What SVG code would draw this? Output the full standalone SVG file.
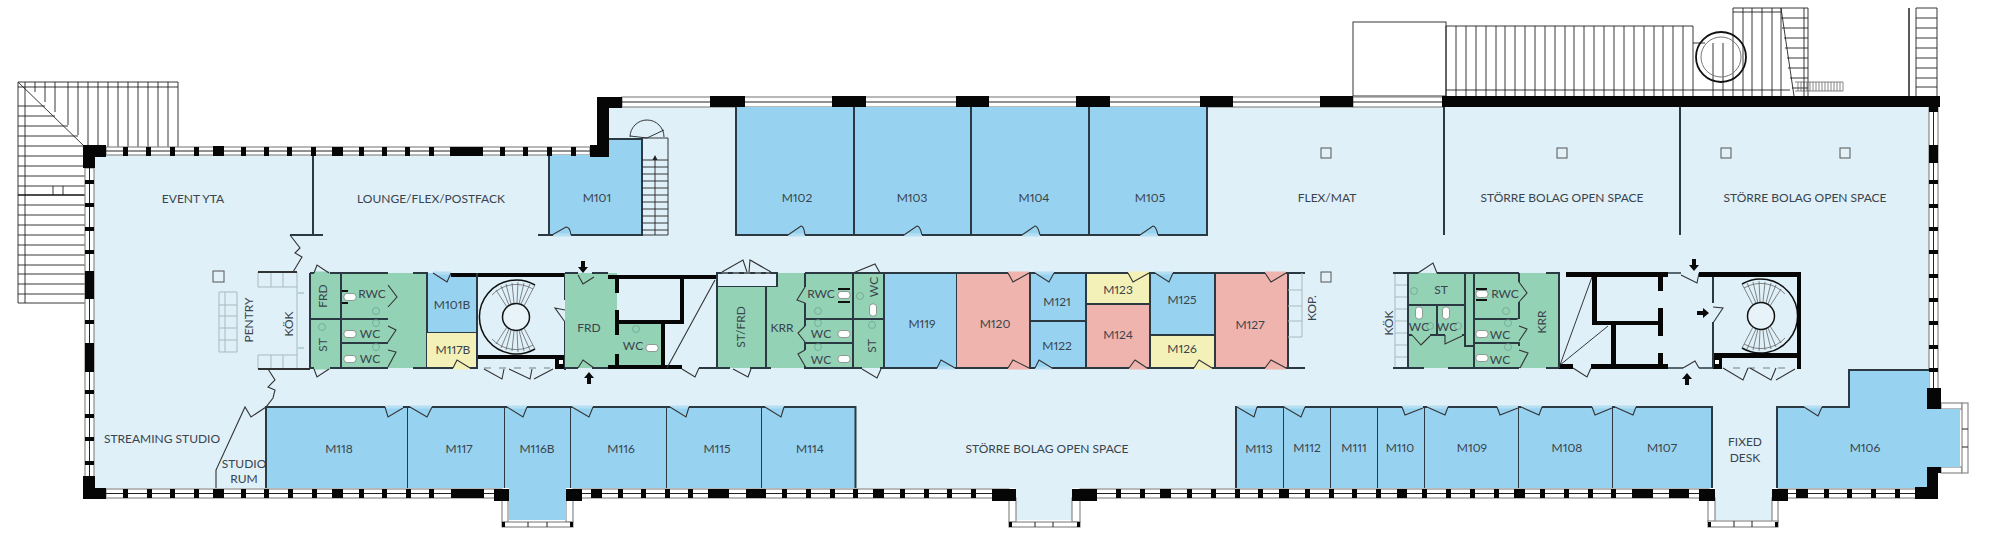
<svg xmlns="http://www.w3.org/2000/svg" width="2001" height="552" viewBox="0 0 2001 552">
<style>
text{font-family:"Lato","Liberation Sans",sans-serif;font-size:12px;font-variant-numeric:proportional-nums;font-feature-settings:"pnum";fill:#3a444c;text-anchor:middle;dominant-baseline:central}
.fl{fill:#dff0f9}.b{fill:#97d3f1}.g{fill:#93d2b5}.p{fill:#efb4ae}.y{fill:#f4f1b8}
.o{stroke:#2b3a42;stroke-width:2;fill:none}
.wall{fill:#060606}
.fr{fill:#fff;stroke:#8a8a8a;stroke-width:1.2}
.ml{stroke:#222;stroke-width:1;fill:none}
.th{stroke:#222;stroke-width:.9;fill:none}
.lg{stroke:#555;stroke-width:.7;fill:none}
.gy{stroke:#a9b9bd;stroke-width:1;fill:none}
.d{stroke:#333;stroke-width:1.1;fill:none}
.gb{stroke:#b5def3;stroke-width:3}.gg{stroke:#93d2b5;stroke-width:3}.gp{stroke:#efb4ae;stroke-width:3}.gl{stroke:#dff0f9;stroke-width:3}.gyl{stroke:#f4f1b8;stroke-width:3}
.col{fill:#e3f1f8;stroke:#555;stroke-width:1}
.toi{fill:#fff;stroke:#777;stroke-width:.7}
.sk{fill:none;stroke:#6c9d8a;stroke-width:.7}
</style>
<defs>
<path id="arr" d="M0-6L5 0H2V6H-2V0H-5Z" fill="#0a0a0a"/>
<rect id="to" class="toi" x="-6" y="-3.5" width="12" height="7" rx="3"/>
<circle id="sink" class="sk" r="3.5"/>
<g id="spiral">
<circle r="13.5" fill="#e8f3f9" stroke="#111" stroke-width="1.5"/>
<path d="M19-32A37 37 0 1 0 19 32" fill="none" stroke="#111" stroke-width="1.5"/>
<path d="M-20-27L-9-10M-15-31L-7-12M-10-33L-5-13M-4-34L-2-14M2-35L1-14M8-34L3-13M14-33L5-13M19-32L8-11M-20 27L-9 10M-15 31L-7 12M-10 33L-5 13M-4 34L-2 14M2 35L1 14M8 34L3 13M14 33L5 13M19 32L8 11M-24-22A33 33 0 0 1 17-28M-24 22A33 33 0 0 0 17 28" class="lg"/>
</g>
</defs>

<g id="exterior-stairs">
<path class="th" d="M18 82H178M18 87H178M18 82V303M25 82V303M18 82L83 145M35 82V92M45 82V102M55 82V112M68 82V125M78 82V135M88 82V147M98 82V147M108 82V147M118 82V147M128 82V147M138 82V147M148 82V147M158 82V147M168 82V147M178 82V147"/>
<path class="th" d="M18 106H45M18 116H55M18 126H68M18 136H78M18 146H85M18 156H85M18 166H85M18 176H85M18 186H85M18 205H85M18 215H85M18 225H85M18 235H85M18 245H85M18 255H85M18 265H85M18 274H85M18 284H85M18 294H85M18 303H85M53 186V195M63 186V195"/>
<path d="M18 195H85" stroke="#111" stroke-width="1.4"/>
<rect x="1353" y="22" width="93" height="74" fill="#fff" class="th"/>
<path class="th" d="M1446 26H1693M1446 26V96M1456 26V96M1466 26V96M1476 26V96M1486 26V96M1496 26V96M1505 26V96M1515 26V96M1525 26V96M1535 26V96M1545 26V96M1555 26V96M1565 26V96M1574 26V96M1584 26V96M1594 26V96M1604 26V96M1614 26V96M1624 26V96M1634 26V96M1644 26V96M1654 26V96M1663 26V96M1673 26V96M1683 26V96M1693 26V96M1446 90H1790M1693 43H1705M1713 43V96M1723 43V96"/>
<path class="th" d="M1733 8H1808V96M1733 8V96M1743 8V96M1752 8V96M1762 8V96M1772 8V96M1781 8V96M1804 8V96M1733 12H1781M1781 8L1794 96M1781 18H1808M1782 28H1808M1784 38H1808M1785 48H1808M1787 58H1808M1788 68H1808M1790 78H1808M1792 88H1808"/>
<path class="lg" d="M1795 82H1843M1795 91H1843M1798 82V91M1801 82V91M1804 82V91M1807 82V91M1810 82V91M1813 82V91M1816 82V91M1819 82V91M1822 82V91M1825 82V91M1828 82V91M1831 82V91M1834 82V91M1837 82V91M1840 82V91M1843 82V91"/>
<circle cx="1721" cy="57" r="25" fill="none" stroke="#111" stroke-width="1.8"/>
<circle cx="1721" cy="57" r="20" fill="none" stroke="#777" stroke-width="1"/>
<path d="M1909 8V96" stroke="#222" stroke-width="1.5"/>
<path class="th" d="M1916 8H1937V96M1916 8V96M1916 18H1937M1916 28H1937M1916 38H1937M1916 48H1937M1916 58H1937M1916 68H1937M1916 78H1937M1916 87H1937"/>
</g>

<g id="floor">
<path class="fl" d="M94 155H609V107H1929V488H1772V520H1715V488H1072V520H1015V488H566V520H509V488H94Z"/>
</g>

<g id="windows">
<rect class="fr" x="106" y="147" width="484" height="8"/>
<rect class="fr" x="622" y="97" width="731" height="10"/>
<rect class="fr" x="1353" y="97" width="90" height="10"/>
<rect class="fr" x="106" y="489" width="396" height="9"/>
<rect class="fr" x="573" y="489" width="436" height="9"/>
<rect class="fr" x="1080" y="489" width="629" height="9"/>
<rect class="fr" x="1778" y="489" width="140" height="9"/>
<rect class="fr" x="85" y="168" width="9" height="310"/>
<rect class="fr" x="1929" y="107" width="9" height="282"/>
<rect class="fr" x="502" y="498" width="6" height="24"/><rect class="fr" x="566" y="498" width="7" height="24"/><rect class="fr" x="502" y="522" width="71" height="5"/>
<rect class="fr" x="1009" y="498" width="7" height="24"/><rect class="fr" x="1072" y="498" width="8" height="24"/><rect class="fr" x="1009" y="522" width="71" height="5"/>
<rect class="fr" x="1708" y="498" width="7" height="24"/><rect class="fr" x="1772" y="498" width="6" height="24"/><rect class="fr" x="1708" y="521" width="70" height="6"/>
<rect class="fr" x="1941" y="403" width="21" height="6"/><rect class="fr" x="1941" y="467" width="21" height="6"/><rect class="fr" x="1962" y="403" width="6" height="70"/>
<path class="ml" d="M106 151H590M622 102H1443M106 493.5H502M573 493.5H1009M1080 493.5H1709M1778 493.5H1918M89.5 168V478M1933.5 107V389M528 522V527M547 522V527M1035 522V527M1053 522V527M1734 521V527M1752 521V527M1962 429H1968M1962 447H1968"/>
</g>

<g id="room-m101"><path class="b" d="M549 155H609V139H642V235H549Z"/><path class="o" d="M549 155V235H642V139H609M538 235H549"/><path class="gb" d="M553 235H571"/><path class="d" d="M552 235L566 227Q570 227 571 235"/><text x="597" y="197">M101</text></g>
<g id="stair-m101"><path class="th" d="M642 138H668V235H642M655 235V158M630 137A17 17 0 0 1 664 137M647 138L630 136M647 138L664 130M642 160H668M642 167H668M642 174H668M642 181H668M642 188H668M642 195H668M642 202H668M642 209H668M642 216H668M642 223H668M642 230H668"/><path d="M655 155L657.500 160H652.500Z" fill="#222"/></g>
<g id="room-m102"><rect class="b" x="736" y="107" width="118" height="128"/><path class="o" d="M736 107V235H854"/><path class="gb" d="M788 235H805"/><path class="d" d="M788 235L801 226Q804 226 805 235"/><text x="797" y="197">M102</text></g>
<g id="room-m103"><rect class="b" x="854" y="107" width="117" height="128"/><path class="o" d="M854 107V235H971"/><path class="gb" d="M904 235H922"/><path class="d" d="M904 235L917 226Q920 226 922 235"/><text x="912" y="197">M103</text></g>
<g id="room-m104"><rect class="b" x="971" y="107" width="118" height="128"/><path class="o" d="M971 107V235H1089"/><path class="gb" d="M1022 235H1040"/><path class="d" d="M1022 235L1035 226Q1038 226 1040 235"/><text x="1034" y="197">M104</text></g>
<g id="room-m105"><rect class="b" x="1089" y="107" width="118" height="128"/><path class="o" d="M1089 107V235H1207V107"/><path class="gb" d="M1140 235H1158"/><path class="d" d="M1140 235L1153 226Q1156 226 1158 235"/><text x="1150" y="197">M105</text></g>

<g id="open-areas">
<path class="o" d="M313 155V235M290 235H323M1444 107V235M1680 107V235"/>
<path class="d" d="M290 235L300 248L295 253L302 257L293 272M268 369L275 380L268 387L275 390L273 398L266 407L251 417L245 407L216 470V488"/>
<text x="193" y="198">EVENT YTA</text><text x="431" y="198">LOUNGE/FLEX/POSTFACK</text><text x="1327" y="197">FLEX/MAT</text><text x="1562" y="197">STÖRRE BOLAG OPEN SPACE</text><text x="1805" y="197">STÖRRE BOLAG OPEN SPACE</text><text x="162" y="438">STREAMING STUDIO</text><text x="244" y="463">STUDIO</text><text x="244" y="478">RUM</text><text x="1047" y="448">STÖRRE BOLAG OPEN SPACE</text><text x="1745" y="441">FIXED</text><text x="1745" y="457">DESK</text>
<g class="col"><rect x="213" y="271" width="11" height="11"/><rect x="1321" y="148" width="10" height="10"/><rect x="1557" y="148" width="10" height="10"/><rect x="1721" y="148" width="10" height="10"/><rect x="1840" y="148" width="10" height="10"/><rect x="1321" y="272" width="10" height="10"/></g>
</g>

<g id="west-kitchen">
<path class="gy" d="M219 292H237V352H219ZM225 292V352M219 305H237M219 316H237M219 328H237M219 340H237M258 272V287H297M271 272V287M283 272V287M258 355H297M258 355V369M271 355V369M283 355V369M297 272V369"/>
<path d="M258 272H297M258 369H310" stroke="#333" stroke-width="2" fill="none"/>
<path class="sk" d="M298 293h6M298 348h6"/>
<text transform="translate(248 320) rotate(-90)">PENTRY</text><text transform="translate(288 324) rotate(-90)">KÖK</text>
</g>

<g id="core-west-green">
<rect class="g" x="310" y="273" width="117" height="95"/>
<path class="o" d="M310 273V368M341 273V368M310 319H388M341 343H388M310 273H388M310 368H388M413 273H427V368H413"/>
<path class="gg" d="M314 273H330M314 368H330M388 285V307M388 326V342M388 350V367"/>
<path class="d" d="M314 273L317 265L329 273M314 369L317 377L329 369M388 285L397 297L388 307M388 326L396 330L388 342M388 350L396 352L388 367"/>
<use href="#to" x="350" y="297"/><use href="#to" x="350" y="334"/><use href="#to" x="350" y="359"/><use href="#sink" x="376" y="311"/><use href="#sink" x="376" y="323"/><use href="#sink" x="376" y="347"/><use href="#sink" x="322" y="327"/>
<path d="M342 291H348M342 303H348" stroke="#111" stroke-width="2"/>
<text transform="translate(322 296) rotate(-90)">FRD</text><text x="372" y="293">RWC</text><text x="370" y="333">WC</text><text x="370" y="358">WC</text><text transform="translate(322 345) rotate(-90)">ST</text>
</g>
<g id="room-m101b"><rect class="b" x="427" y="273" width="50" height="60"/><path class="o" d="M427 273V333H477"/><path class="gb" d="M433 273H451"/><path class="d" d="M433 273L447 282L451 273"/><text x="452" y="304">M101B</text></g>
<g id="room-m117b"><rect class="y" x="427" y="333" width="50" height="35"/><path class="o" d="M427 368H477V333"/><path class="gyl" d="M453 368H470"/><path class="d" d="M453 368L457 360L470 368"/><text x="453" y="349">M117B</text></g>
<g id="stair-west">
<use href="#spiral" transform="translate(516 317)"/>
<path class="wall" d="M451 273H565V277H451ZM477 355H565V359H477ZM555 359H565V369H555Z"/><rect x="559" y="360" width="4" height="4" fill="#fff"/>
<path class="o" d="M477 273V368M565 273V300M565 322V370"/>
<path d="M484 368H550" stroke="#a9b9bd" stroke-width="2" stroke-dasharray="7 8" fill="none"/>
<path class="d" d="M565 310L555 308L565 322M484 369L502 379L504 369M509 369L530 379L532 369M534 379L553 369"/>
<use href="#arr" transform="translate(583 267) rotate(180)"/><use href="#arr" transform="translate(572 313) rotate(-90)"/><use href="#arr" transform="translate(589 378)"/>
</g>
<g id="core-frd">
<path class="g" d="M565 273H617V324H661V368H565Z"/>
<path class="wall" d="M608 275H717V279H608ZM615 279H619V293H615ZM615 310H619V335H615ZM615 354H619V368H615ZM608 365H682V369H608ZM680 279H684V324H680ZM617 320H684V324H617ZM661 324H665V368H661Z"/>
<path class="o" d="M565 273H578M592 273H608M565 368H578M592 368H608M717 273V368M699 368H717M717 273H725"/>
<path class="d" d="M578 275L583 284L594 277M578 368L583 360L594 368M682 369L695 377L699 368M667 368L715 280"/>
<use href="#to" x="652" y="348"/><use href="#sink" x="636" y="329"/>
<text x="589" y="327">FRD</text><text x="633" y="345">WC</text>
</g>

<g id="core-mid">
<rect x="717" y="273" width="60" height="14" class="fl" stroke="#2b3a42" stroke-width="2"/>
<path class="g" d="M717 287H777V273H884V368H717Z"/>
<path class="o" d="M717 287V368H730M750 368H771M766 287V368M777 273V287M805 273V368H862M853 273V368M805 273H884M805 319H884M805 343H853M880 368H884"/>
<path class="gg" d="M805 287V303M805 326V342M805 350V366"/>
<path d="M722 273H770" stroke="#999" stroke-width="1.2" stroke-dasharray="6 5"/>
<path class="d" d="M722 272L743 260L747 272M749 272L750 260L771 272M853 273L875 264L880 273M733 369L748 377L751 369M862 369L877 378L881 369M805 287L797 300L805 303M805 326L798 333L805 342M805 350L798 354L805 366"/>
<use href="#to" x="844" y="295"/><use href="#to" x="844" y="334"/><use href="#to" x="844" y="359"/><use href="#to" transform="translate(873 310) rotate(90)"/><use href="#sink" x="818" y="311"/><use href="#sink" x="818" y="323"/><use href="#sink" x="818" y="347"/><use href="#sink" x="860" y="296"/><use href="#sink" x="872" y="325"/>
<path d="M838 289H850M838 302H850" stroke="#111" stroke-width="2"/>
<text transform="translate(740 327) rotate(-90)">ST/FRD</text><text x="782" y="327">KRR</text><text x="821" y="293">RWC</text><text x="821" y="333">WC</text><text x="821" y="359">WC</text><text transform="translate(873 287) rotate(-90)">WC</text><text transform="translate(871 346) rotate(-90)">ST</text>
</g>
<g id="room-m119"><rect class="b" x="884" y="273" width="73" height="95"/><path class="o" d="M884 273H957V368H884V273"/><path class="gb" d="M937 368H955"/><path class="d" d="M937 368L941 360L955 368"/><text x="922" y="323">M119</text></g>
<g id="room-m120"><rect class="p" x="957" y="273" width="73" height="95"/><path class="o" d="M957 273H1030V368H957"/><path class="gp" d="M1008 273H1029M1008 368H1029"/><path class="d" d="M1008 273L1013 282L1029 273M1008 368L1013 360L1029 368"/><text x="995" y="323">M120</text></g>
<g id="room-m121"><rect class="b" x="1030" y="273" width="56" height="48"/><path class="o" d="M1030 273H1086V321H1030Z"/><path class="gb" d="M1035 273H1054"/><path class="d" d="M1035 273L1049 282L1054 273"/><text x="1057" y="301">M121</text></g>
<g id="room-m122"><rect class="b" x="1030" y="321" width="56" height="47"/><path class="o" d="M1030 321H1086V368H1030Z"/><path class="gb" d="M1035 368H1052"/><path class="d" d="M1035 368L1039 360L1052 368"/><text x="1057" y="345">M122</text></g>
<g id="room-m123"><rect class="y" x="1086" y="273" width="64" height="31"/><path class="o" d="M1086 273H1150V304H1086Z"/><path class="gyl" d="M1128 273H1149"/><path class="d" d="M1128 273L1133 282L1149 273"/><text x="1118" y="289">M123</text></g>
<g id="room-m124"><rect class="p" x="1086" y="304" width="64" height="64"/><path class="o" d="M1086 304H1150V368H1086Z"/><path class="gp" d="M1129 368H1147"/><path class="d" d="M1129 368L1135 360L1147 368"/><text x="1118" y="334">M124</text></g>
<g id="room-m125"><rect class="b" x="1150" y="273" width="65" height="62"/><path class="o" d="M1150 273H1215V335H1150Z"/><path class="gb" d="M1155 273H1173"/><path class="d" d="M1155 273L1169 282L1173 273"/><text x="1182" y="299">M125</text></g>
<g id="room-m126"><rect class="y" x="1150" y="335" width="65" height="33"/><path class="o" d="M1150 335H1215V368H1150Z"/><path class="gyl" d="M1194 368H1212"/><path class="d" d="M1194 368L1199 360L1212 368"/><text x="1182" y="348">M126</text></g>
<g id="room-m127"><rect class="p" x="1215" y="273" width="73" height="95"/><path class="o" d="M1215 273H1288V368H1215ZM1288 273H1305M1288 368H1305"/><path class="gp" d="M1265 273H1286M1265 368H1286"/><path class="d" d="M1265 273L1271 282L1286 273M1265 368L1271 360L1286 368"/><text x="1250" y="324">M127</text></g>
<g id="kop"><path class="gy" d="M1288 290H1302M1288 306H1302M1288 321H1302M1288 337H1302M1302 273V337"/><text transform="translate(1311 308) rotate(-90)">KOP.</text></g>

<g id="lower-west-rooms">
<g id="room-m118"><rect class="b" x="266" y="407" width="142" height="81"/><path class="o" d="M266 488V407H408V488"/><path class="gb" d="M385 407H403"/><path class="d" d="M385 407L388 417L403 408"/><text x="339" y="448">M118</text></g>
<g id="room-m117"><rect class="b" x="408" y="407" width="97" height="81"/><path class="o" d="M408 407H505V488"/><path class="gb" d="M410 407H432"/><path class="d" d="M410 407L427 417L432 407"/><text x="459" y="448">M117</text></g>
<g id="room-m116b"><path class="b" d="M505 407H571V488H566V520H509V488H505Z"/><path class="o" d="M505 407H571V488"/><path class="gb" d="M507 407H527"/><path class="d" d="M507 407L523 417L527 407"/><text x="537" y="448">M116B</text></g>
<g id="room-m116"><rect class="b" x="571" y="407" width="96" height="81"/><path class="o" d="M571 407H667V488"/><path class="gb" d="M572 407H593"/><path class="d" d="M572 407L589 417L593 407"/><text x="621" y="448">M116</text></g>
<g id="room-m115"><rect class="b" x="667" y="407" width="95" height="81"/><path class="o" d="M667 407H762V488"/><path class="gb" d="M670 407H689"/><path class="d" d="M670 407L686 417L689 407"/><text x="717" y="448">M115</text></g>
<g id="room-m114"><rect class="b" x="762" y="407" width="94" height="81"/><path class="o" d="M762 407H855.500V488"/><path class="gb" d="M765 407H784"/><path class="d" d="M765 407L781 417L784 407"/><text x="810" y="448">M114</text></g>
</g>
<g id="lower-east-rooms">
<g id="room-m113"><rect class="b" x="1236" y="407" width="48" height="81"/><path class="o" d="M1236 488V407H1284V488"/><path class="gb" d="M1237 407H1257"/><path class="d" d="M1237 407L1254 417L1257 407"/><text x="1259" y="448">M113</text></g>
<g id="room-m112"><rect class="b" x="1284" y="407" width="47" height="81"/><path class="o" d="M1284 407H1331V488"/><path class="gb" d="M1284 407H1305"/><path class="d" d="M1284 407L1301 417L1305 407"/><text x="1307" y="447">M112</text></g>
<g id="room-m111"><rect class="b" x="1331" y="407" width="47" height="81"/><path class="o" d="M1331 407H1378V488"/><text x="1354" y="447">M111</text></g>
<g id="room-m110"><rect class="b" x="1378" y="407" width="47" height="81"/><path class="o" d="M1378 407H1425V488"/><path class="gb" d="M1402 407H1423"/><path class="d" d="M1402 407L1405 415L1423 408"/><text x="1400" y="447">M110</text></g>
<g id="room-m109"><rect class="b" x="1425" y="407" width="94" height="81"/><path class="o" d="M1425 407H1519V488"/><path class="gb" d="M1427 407H1448M1497 407H1518"/><path class="d" d="M1427 407L1445 415L1448 407M1497 407L1500 415L1518 408"/><text x="1472" y="447">M109</text></g>
<g id="room-m108"><rect class="b" x="1519" y="407" width="94" height="81"/><path class="o" d="M1519 407H1613V488"/><path class="gb" d="M1521 407H1542M1592 407H1612"/><path class="d" d="M1521 407L1539 415L1542 407M1592 407L1595 415L1612 408"/><text x="1567" y="447">M108</text></g>
<g id="room-m107"><rect class="b" x="1613" y="407" width="99" height="81"/><path class="o" d="M1613 407H1712V488"/><path class="gb" d="M1615 407H1636"/><path class="d" d="M1615 407L1633 415L1636 407"/><text x="1662" y="447">M107</text></g>
<g id="room-m106"><path class="b" d="M1777 407H1849V370H1929V409H1960V467H1929V488H1777Z"/><path class="o" d="M1777 488V407H1849V370H1929"/><path class="gb" d="M1804 407H1822"/><path class="d" d="M1804 407L1818 416L1822 407"/><text x="1865" y="447">M106</text></g>
</g>

<g id="core-east-green">
<path class="g" d="M1408 273H1559V368H1408Z"/>
<path class="gy" d="M1395 273V368M1395 285H1408M1395 297H1408M1395 309H1408M1395 321H1408M1395 333H1408M1395 345H1408M1395 357H1408"/>
<path class="o" d="M1393 273H1408V368H1393M1408 368H1424M1448 368H1519M1408 305H1465M1408 273H1418M1437 273H1519M1437 305V335M1465 273V346H1474M1474 273V368M1408 335H1412M1430 335H1445M1462 335H1465M1474 319H1519M1474 343H1519M1519 273V368M1546 273H1559V368H1546"/>
<path class="gg" d="M1519 282V302M1519 319V342M1519 346V367"/>
<path class="d" d="M1418 273L1433 263L1437 273M1412 335L1421 345L1430 336M1445 335L1445 344L1462 336M1519 282L1527 293L1519 302M1519 326L1527 329L1519 341M1519 350L1528 353L1520 368"/>
<use href="#to" x="1482" y="294"/><use href="#to" x="1482" y="334"/><use href="#to" x="1482" y="358"/><use href="#to" transform="translate(1419 313) rotate(90)"/><use href="#to" transform="translate(1446 313) rotate(90)"/><use href="#sink" x="1414" y="291"/><use href="#sink" x="1430" y="326"/><use href="#sink" x="1458" y="326"/><use href="#sink" x="1506" y="311"/><use href="#sink" x="1508" y="323"/><use href="#sink" x="1508" y="347"/>
<path d="M1476 289H1487M1476 300H1487" stroke="#111" stroke-width="2"/>
<text transform="translate(1388 323) rotate(-90)">KÖK</text><text x="1441" y="289">ST</text><text x="1419" y="326">WC</text><text x="1447" y="326">WC</text><text x="1505" y="293">RWC</text><text x="1500" y="334">WC</text><text x="1500" y="359">WC</text><text transform="translate(1541 322) rotate(-90)">KRR</text>
</g>
<g id="core-east-shafts">
<path class="wall" d="M1566 272H1668V277H1566ZM1592 277H1597V325H1592ZM1592 321H1658V325H1592ZM1658 277H1663V291H1658ZM1658 308H1663V336H1658ZM1658 353H1663V369H1658ZM1611 325H1616V365H1611ZM1591 364H1668V369H1591ZM1559 364H1573V369H1559Z"/>
<path class="o" d="M1559 273V368"/>
<path class="th" d="M1560 365L1592 277M1560 365L1608 326"/>
<path class="o" style="stroke-width:1.5" d="M1668 273H1681M1668 368H1683M1699 368H1713"/>
<path class="d" d="M1573 368L1587 377L1591 368M1681 275L1697 283L1699 273M1683 368L1695 361L1699 368"/>
<use href="#arr" transform="translate(1694 265) rotate(180)"/><use href="#arr" transform="translate(1703 313) rotate(90)"/><use href="#arr" transform="translate(1687 379)"/>
</g>
<g id="stair-east">
<use href="#spiral" transform="translate(1761 316) scale(-1 1)"/>
<path class="wall" d="M1699 272H1801V277H1699ZM1713 353H1801V358H1713ZM1713 358H1722V369H1713ZM1797 272H1801V369H1797Z"/><rect x="1715" y="360" width="4" height="4" fill="#fff"/>
<path class="o" d="M1713 277V303M1713 322V368"/>
<path d="M1733 368H1790" stroke="#a9b9bd" stroke-width="2" stroke-dasharray="7 8" fill="none"/>
<path class="d" d="M1713 307L1723 308L1713 323M1723 368L1743 380L1748 368M1750 368L1771 380L1776 368M1776 380L1795 369"/>
</g>

<g id="walls">
<path class="wall" d="M83 145H106V157H95V168H83ZM123 147h5v9h-5zM146 147h5v9h-5zM170 147h5v9h-5zM194 147h5v9h-5zM213 146h11v10h-11zM241 147h5v9h-5zM264 147h5v9h-5zM287 147h5v9h-5zM311 147h5v9h-5zM332 147h11v9h-11zM359 147h5v9h-5zM382 147h5v9h-5zM405 147h5v9h-5zM429 147h5v9h-5zM450 147h33v9h-33zM500 147h5v9h-5zM523 147h5v9h-5zM547 147h5v9h-5zM571 147h5v9h-5z"/>
<path class="wall" d="M590 145H597V97H622V108H609V157H590Z"/>
<path class="wall" d="M710 96h35v11h-35zM832 96h34v11h-34zM956 96h33v11h-33zM1076 96h34v11h-34zM1200 96h33v11h-33zM1320 96h33v11h-33zM1442 96H1940V107H1442Z"/>
<path class="wall" d="M85 180h9v4h-9zM85 203h9v4h-9zM85 227h9v4h-9zM85 250h9v4h-9zM85 271h9v28h-9zM85 320h9v4h-9zM85 343h9v29h-9zM85 390h9v4h-9zM85 414h9v4h-9zM85 437h9v4h-9zM85 461h9v4h-9zM83 476H95V488H106V499H83Z"/>
<path class="wall" d="M123 489h5v9h-5zM147 489h5v9h-5zM170 489h5v9h-5zM194 489h5v9h-5zM213 489h11v9h-11zM241 489h5v9h-5zM264 489h5v9h-5zM288 489h5v9h-5zM312 489h5v9h-5zM332 489h11v9h-11zM359 489h5v9h-5zM382 489h5v9h-5zM406 489h5v9h-5zM429 489h5v9h-5zM451 489h33v9h-33zM494 489h15v12h-15zM566 489h16v12h-16zM591 489h11v9h-11zM618 489h5v9h-5zM641 489h5v9h-5zM665 489h5v9h-5zM688 489h5v9h-5zM708 489h21v9h-21zM746 489h20v9h-20zM782 489h5v9h-5zM806 489h5v9h-5zM830 489h5v9h-5zM853 489h5v9h-5zM873 489h11v9h-11zM900 489h5v9h-5zM924 489h5v9h-5zM947 489h5v9h-5zM971 489h5v9h-5zM992 489h24v12h-24zM1072 489h25v12h-25zM1116 489h5v9h-5zM1140 489h5v9h-5zM1160 489h11v9h-11zM1187 489h5v9h-5zM1211 489h5v9h-5zM1235 489h5v9h-5zM1258 489h5v9h-5zM1279 489h10v9h-10zM1305 489h5v9h-5zM1329 489h5v9h-5zM1352 489h5v9h-5zM1376 489h5v9h-5zM1397 489h10v9h-10zM1422 489h5v9h-5zM1446 489h5v9h-5zM1470 489h5v9h-5zM1494 489h5v9h-5zM1514 489h11v9h-11zM1540 489h5v9h-5zM1564 489h5v9h-5zM1588 489h5v9h-5zM1611 489h5v9h-5zM1632 489h21v9h-21zM1669 489h20v9h-20zM1699 489h16v12h-16zM1772 489h16v12h-16zM1796 489h12v9h-12zM1824 489h5v9h-5zM1847 489h5v9h-5zM1871 489h5v9h-5zM1895 489h5v9h-5z"/>
<path class="wall" d="M1915 487H1927V467H1941V473H1938V499H1915ZM1927 388H1941V409H1927ZM1929 145h9v18h-9zM1929 180h9v4h-9zM1929 204h9v4h-9zM1929 227h9v4h-9zM1929 250h9v4h-9zM1929 274h9v4h-9zM1929 298h9v4h-9zM1929 321h9v4h-9zM1929 345h9v4h-9zM1929 368h9v4h-9zM1929 107h9v5h-9z"/>
<path class="wall" d="M502 522h3v5h-3zM570 522h3v5h-3zM1009 522h3v5h-3zM1077 522h3v5h-3zM1708 522h3v5h-3zM1775 522h3v5h-3z"/>
</g>
</svg>
